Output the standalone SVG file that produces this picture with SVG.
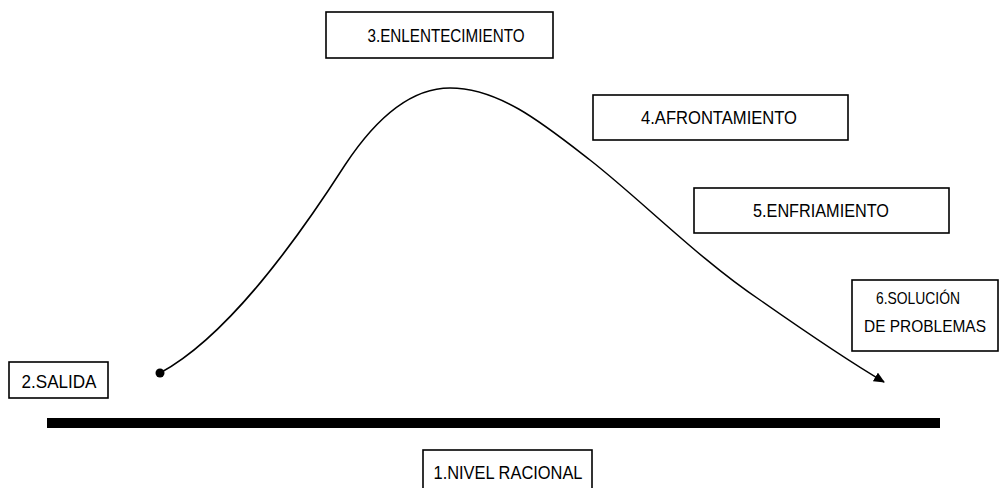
<svg xmlns="http://www.w3.org/2000/svg" width="999" height="488" viewBox="0 0 999 488">
<style>
.box{fill:#fff;stroke:#000;stroke-width:1.6}
.t{font-family:"Liberation Sans",Arial,sans-serif;font-size:18px;fill:#000;text-anchor:middle}
.s{font-size:16.5px}
</style>
<defs>
<marker id="ah" markerWidth="11" markerHeight="10" refX="10" refY="5" orient="auto" markerUnits="userSpaceOnUse">
<path d="M0,0 L11,5 L0,10 Z" fill="#000"/>
</marker>
</defs>
<rect width="999" height="488" fill="#fff"/>
<g id="connectors">
<path d="M160,373 C230,335 300,235 345,165 C380,112 415,88 450,88 C500,88 545,125 590,160 C640,199 700,260 760,300 C810,335 850,362 884,382" fill="none" stroke="#000" stroke-width="1.5" marker-end="url(#ah)"/>
<circle cx="160" cy="373" r="4.5" fill="#000"/>
</g>
<g id="baseline"><rect x="47" y="418" width="893" height="10" fill="#000"/></g>
<g id="n3"><rect class="box" x="326" y="12" width="227" height="46"/><text class="t" x="446" y="42" textLength="157" lengthAdjust="spacingAndGlyphs">3.ENLENTECIMIENTO</text></g>
<g id="n4"><rect class="box" x="593" y="95" width="255" height="45"/><text class="t" x="719" y="124" textLength="156" lengthAdjust="spacingAndGlyphs">4.AFRONTAMIENTO</text></g>
<g id="n5"><rect class="box" x="694" y="188" width="255" height="45"/><text class="t" x="821" y="217" textLength="136" lengthAdjust="spacingAndGlyphs">5.ENFRIAMIENTO</text></g>
<g id="n6"><rect class="box" x="852" y="280" width="146" height="71"/><text class="t s" x="918" y="304" textLength="84" lengthAdjust="spacingAndGlyphs">6.SOLUCIÓN</text><text class="t s" x="925" y="332" textLength="122" lengthAdjust="spacingAndGlyphs">DE PROBLEMAS</text></g>
<g id="n2"><rect class="box" x="9" y="362" width="99" height="36"/><text class="t" x="59" y="388" textLength="75" lengthAdjust="spacingAndGlyphs">2.SALIDA</text></g>
<g id="n1"><rect class="box" x="423" y="450" width="169" height="40"/><text class="t" x="508" y="479" textLength="149" lengthAdjust="spacingAndGlyphs">1.NIVEL RACIONAL</text></g>
</svg>
